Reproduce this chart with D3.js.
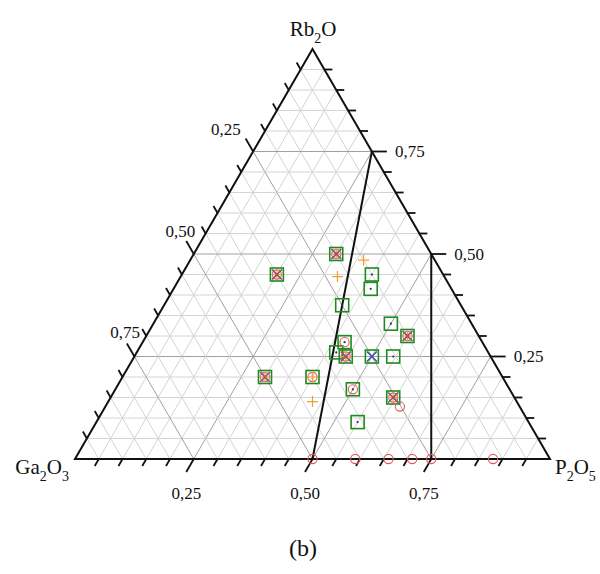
<!DOCTYPE html>
<html>
<head>
<meta charset="utf-8">
<script src="https://cdn.jsdelivr.net/npm/d3@7"></script>
<style>
  html, body { margin: 0; padding: 0; background: #fff; }
  svg { display: block; }
  text { font-family: "Liberation Serif", "DejaVu Serif", serif; fill: #111; }
</style>
</head>
<body>
<svg id="chart" width="600" height="574"></svg>
<script>
// Composition points: [Rb2O, P2O5] mole fractions, Ga2O3 is the remainder.
const squarePoints = [
  [0.50, 0.30], [0.45, 0.40], [0.45, 0.20], [0.415, 0.415], [0.375, 0.375],
  [0.33, 0.50], [0.30, 0.55], [0.285, 0.425], [0.26, 0.42], [0.25, 0.445],
  [0.25, 0.50], [0.25, 0.545], [0.20, 0.30], [0.20, 0.40], [0.17, 0.50],
  [0.15, 0.595], [0.09, 0.55]
];
const dotPoints = [
  [0.45, 0.40], [0.415, 0.415], [0.375, 0.375], [0.33, 0.50], [0.285, 0.425],
  [0.26, 0.42], [0.25, 0.545], [0.17, 0.50], [0.09, 0.55]
];
const circlePoints = [
  [0.50, 0.30], [0.45, 0.20], [0.30, 0.55], [0.285, 0.425], [0.25, 0.445],
  [0.20, 0.30], [0.20, 0.40], [0.17, 0.50], [0.15, 0.595], [0.128, 0.62],
  [0, 0.50], [0, 0.59], [0, 0.66], [0, 0.71], [0, 0.75], [0, 0.88]
];
const plusPoints = [
  [0.50, 0.30], [0.485, 0.365], [0.445, 0.33], [0.45, 0.20], [0.30, 0.55],
  [0.25, 0.445], [0.20, 0.30], [0.20, 0.40], [0.14, 0.43], [0.15, 0.595]
];
const blueCrossPoints = [
  [0.50, 0.30], [0.45, 0.20], [0.30, 0.55], [0.25, 0.445], [0.25, 0.50],
  [0.20, 0.30], [0.15, 0.595]
];
const redCrossPoints = [
  [0.50, 0.30], [0.45, 0.20], [0.30, 0.55], [0.25, 0.445],
  [0.20, 0.30], [0.15, 0.595]
];
// Boundary lines, each given by its two end compositions [Rb2O, P2O5].
const boundaryLines = [
  [[0.75, 0.25], [0, 0.50]],
  [[0.50, 0.50], [0, 0.75]]
];
const tickValues = d3.range(1, 20).map(i => i / 20);
const majorTicks = [0.25, 0.50, 0.75];
const tickLabels = ["0,25", "0,50", "0,75"];
const apexNames = [
  { base: "Rb", sub: "2", tail: "O", sub2: "" },
  { base: "Ga", sub: "2", tail: "O", sub2: "3" },
  { base: "P", sub: "2", tail: "O", sub2: "5" }
];
const panelLabel = "(b)";

const svg = d3.select("#chart");
const x = d3.scaleLinear().domain([0, 1]).range([75, 550]);
const y = d3.scaleLinear().domain([0, 1]).range([459, 49]);
// ternary (Rb2O, P2O5) -> screen
const pos = (rb, p) => [x(p + rb / 2), y(rb)];
const isMajor = v => majorTicks.some(m => Math.abs(m - v) < 1e-6);

// grid
const grid = svg.append("g");
const gridSegs = [];
tickValues.forEach(v => {
  gridSegs.push({ a: pos(v, 0), b: pos(v, 1 - v), major: isMajor(v) });       // const Rb2O
  gridSegs.push({ a: pos(0, v), b: pos(1 - v, v), major: isMajor(v) });       // const P2O5
  gridSegs.push({ a: pos(0, 1 - v), b: pos(1 - v, 0), major: isMajor(v) });   // const Ga2O3
});
grid.selectAll("line").data(gridSegs).join("line")
  .attr("x1", d => d.a[0]).attr("y1", d => d.a[1])
  .attr("x2", d => d.b[0]).attr("y2", d => d.b[1])
  .attr("stroke", d => d.major ? "#a0a0a0" : "#d4d4d4")
  .attr("stroke-width", 1);

// ticks
const ticks = [];
const s3 = Math.sqrt(3) / 2;
tickValues.forEach(v => {
  const len = isMajor(v) ? 15 : 8;
  ticks.push({ axis: "rb", v, p: pos(v, 1 - v), d: [1, 0], len });
  ticks.push({ axis: "p", v, p: pos(0, v), d: [-0.5, s3], len });
  ticks.push({ axis: "ga", v, p: pos(1 - v, 0), d: [-0.5, -s3], len });
});
svg.append("g").selectAll("line").data(ticks).join("line")
  .attr("x1", d => d.p[0]).attr("y1", d => d.p[1])
  .attr("x2", d => d.p[0] + d.d[0] * d.len).attr("y2", d => d.p[1] + d.d[1] * d.len)
  .attr("stroke", "#111").attr("stroke-width", 1.8);

// frame
const corners = [pos(1, 0), pos(0, 0), pos(0, 1)];
svg.append("path")
  .attr("d", d3.line()(corners) + "Z")
  .attr("fill", "none").attr("stroke", "#111").attr("stroke-width", 2);

// boundary lines
svg.append("g").selectAll("line").data(boundaryLines).join("line")
  .attr("x1", d => pos(...d[0])[0]).attr("y1", d => pos(...d[0])[1])
  .attr("x2", d => pos(...d[1])[0]).attr("y2", d => pos(...d[1])[1])
  .attr("stroke", "#111").attr("stroke-width", 2);

// tick labels; the Ga2O3 labels sit closer to the edge further down
const gaLabelShift = [0, 14, 18];
const gaLabelLift = [4, 4, 6];
const lab = svg.append("g").attr("font-size", 17);
majorTicks.forEach((v, i) => {
  const t = ticks.filter(k => Math.abs(k.v - v) < 1e-6);
  const r = t.find(k => k.axis === "rb"), b = t.find(k => k.axis === "p"), g = t.find(k => k.axis === "ga");
  lab.append("text").attr("x", r.p[0] + r.len + 8).attr("y", r.p[1] + 5.5).text(tickLabels[i]);
  lab.append("text").attr("x", b.p[0] + b.d[0] * b.len).attr("y", 499)
    .attr("text-anchor", "middle").text(tickLabels[i]);
  lab.append("text").attr("x", g.p[0] + g.d[0] * g.len - 5 + gaLabelShift[i])
    .attr("y", g.p[1] + g.d[1] * g.len - gaLabelLift[i])
    .attr("text-anchor", "end").text(tickLabels[i]);
});

// markers
const crossPath = (d, h) => { const [px, py] = pos(...d); return `M${px - h},${py - h}L${px + h},${py + h}M${px - h},${py + h}L${px + h},${py - h}`; };
const m = svg.append("g");
m.selectAll("rect").data(squarePoints).join("rect")
  .attr("x", d => pos(...d)[0] - 6.5).attr("y", d => pos(...d)[1] - 6.5)
  .attr("width", 13).attr("height", 13)
  .attr("fill", "none").attr("stroke", "#1f8a1f").attr("stroke-width", 1.6);
m.selectAll("circle.c").data(circlePoints).join("circle").attr("class", "c")
  .attr("cx", d => pos(...d)[0]).attr("cy", d => pos(...d)[1]).attr("r", 4.6)
  .attr("fill", "none").attr("stroke", "#e4585c").attr("stroke-width", 1.1);
m.selectAll("path.plus").data(plusPoints).join("path").attr("class", "plus")
  .attr("d", d => { const [px, py] = pos(...d); return `M${px - 5.5},${py}H${px + 5.5}M${px},${py - 5.5}V${py + 5.5}`; })
  .attr("stroke", "#f0a030").attr("stroke-width", 1.2);
m.selectAll("path.bx").data(blueCrossPoints).join("path").attr("class", "bx")
  .attr("d", d => crossPath(d, 5))
  .attr("stroke", "#3a4fa0").attr("stroke-width", 1.5);
m.selectAll("path.rx").data(redCrossPoints).join("path").attr("class", "rx")
  .attr("d", d => crossPath(d, 4.5))
  .attr("stroke", "#e0474c").attr("stroke-width", 1);
m.selectAll("circle.d").data(dotPoints).join("circle").attr("class", "d")
  .attr("cx", d => pos(...d)[0]).attr("cy", d => pos(...d)[1]).attr("r", 1.1)
  .attr("fill", "#333");

// apex names with subscripts
function chem(g, n, xx, yy, anchor) {
  const t = g.append("text").attr("x", xx).attr("y", yy).attr("font-size", 21).attr("text-anchor", anchor);
  t.append("tspan").text(n.base);
  t.append("tspan").attr("font-size", 14).attr("dy", 7).text(n.sub);
  t.append("tspan").attr("dy", -7).text(n.tail);
  if (n.sub2) t.append("tspan").attr("font-size", 14).attr("dy", 7).text(n.sub2);
}
const names = svg.append("g");
chem(names, apexNames[0], 313, 36, "middle");
chem(names, apexNames[1], 69, 474, "end");
chem(names, apexNames[2], 555, 474, "start");

svg.append("text").attr("x", 303).attr("y", 556).attr("font-size", 24)
  .attr("text-anchor", "middle").text(panelLabel);
</script>
</body>
</html>
